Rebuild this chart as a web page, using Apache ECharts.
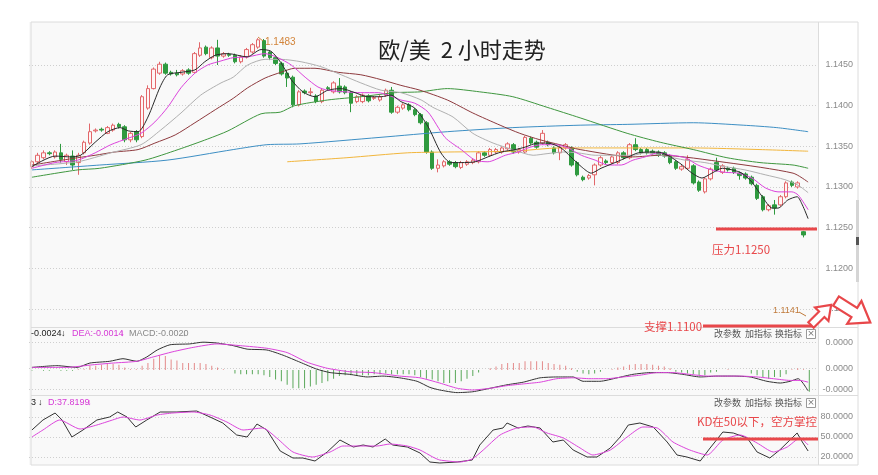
<!DOCTYPE html>
<html><head><meta charset="utf-8">
<script src="https://cdn.jsdelivr.net/npm/echarts@6/dist/echarts.min.js"></script>
<style>html,body{margin:0;padding:0;background:#fff}#c{width:878px;height:475px}</style>
</head><body><div id="c"></div>
<script>
// ---- data ----
// candles: [open, close, low, high]
const candles = [
[1.1325,1.1331,1.1322,1.1333],[1.1331,1.1339,1.1328,1.1342],[1.1336,1.1342,1.1334,1.1345],[1.1342,1.1341,1.1339,1.1344],
[1.1337,1.1343,1.1335,1.1345],[1.1342,1.1334,1.1330,1.1353],[1.1331,1.1339,1.1327,1.1341],[1.1338,1.1327,1.1321,1.1345],
[1.1330,1.1339,1.1315,1.1342],[1.1342,1.1355,1.1340,1.1357],[1.1354,1.1368,1.1352,1.1378],[1.1369,1.1370,1.1367,1.1372],
[1.1371,1.1370,1.1368,1.1373],[1.1366,1.1373,1.1365,1.1375],[1.1370,1.1376,1.1368,1.1378],[1.1377,1.1374,1.1372,1.1379],
[1.1374,1.1358,1.1355,1.1376],[1.1358,1.1366,1.1355,1.1368],[1.1368,1.1358,1.1355,1.1370],[1.1362,1.1411,1.1360,1.1413],
[1.1397,1.1421,1.1395,1.1425],[1.1421,1.1445,1.1420,1.1447],[1.1440,1.1451,1.1438,1.1454],[1.1451,1.1440,1.1438,1.1453],
[1.1441,1.1439,1.1437,1.1443],[1.1440,1.1438,1.1436,1.1444],[1.1439,1.1443,1.1437,1.1445],[1.1444,1.1440,1.1438,1.1446],
[1.1441,1.1464,1.1440,1.1466],[1.1462,1.1471,1.1460,1.1478],[1.1472,1.1464,1.1462,1.1474],[1.1459,1.1471,1.1457,1.1473],
[1.1471,1.1461,1.1450,1.1481],[1.1461,1.1464,1.1459,1.1466],[1.1463,1.1462,1.1460,1.1465],[1.1462,1.1454,1.1452,1.1464],
[1.1454,1.1460,1.1452,1.1462],[1.1460,1.1469,1.1458,1.1471],[1.1466,1.1475,1.1464,1.1477],[1.1472,1.1481,1.1470,1.1483],
[1.1480,1.1461,1.1459,1.1482],[1.1466,1.1459,1.1456,1.1468],[1.1459,1.1452,1.1450,1.1461],[1.1452,1.1439,1.1437,1.1454],
[1.1440,1.1434,1.1423,1.1444],[1.1435,1.1401,1.1398,1.1437],[1.1401,1.1417,1.1399,1.1419],[1.1418,1.1416,1.1414,1.1420],
[1.1416,1.1417,1.1413,1.1422],[1.1412,1.1405,1.1403,1.1414],[1.1405,1.1419,1.1403,1.1421],[1.1422,1.1421,1.1419,1.1424],
[1.1417,1.1428,1.1415,1.1430],[1.1424,1.1417,1.1415,1.1434],[1.1423,1.1416,1.1414,1.1425],[1.1416,1.1403,1.1392,1.1418],
[1.1405,1.1411,1.1403,1.1413],[1.1405,1.1413,1.1403,1.1415],[1.1412,1.1406,1.1404,1.1414],[1.1409,1.1410,1.1407,1.1412],
[1.1407,1.1411,1.1405,1.1413],[1.1413,1.1419,1.1411,1.1421],[1.1419,1.1392,1.1390,1.1423],[1.1392,1.1398,1.1390,1.1400],
[1.1397,1.1401,1.1395,1.1403],[1.1401,1.1395,1.1393,1.1403],[1.1395,1.1389,1.1387,1.1397],[1.1389,1.1379,1.1377,1.1391],
[1.1379,1.1343,1.1341,1.1381],[1.1343,1.1323,1.1321,1.1345],[1.1323,1.1327,1.1318,1.1334],[1.1326,1.1331,1.1324,1.1333],
[1.1331,1.1328,1.1326,1.1333],[1.1330,1.1325,1.1323,1.1332],[1.1324,1.1330,1.1322,1.1332],[1.1328,1.1331,1.1326,1.1333],
[1.1330,1.1333,1.1328,1.1335],[1.1331,1.1342,1.1329,1.1344],[1.1342,1.1339,1.1337,1.1344],[1.1339,1.1346,1.1337,1.1348],
[1.1343,1.1346,1.1341,1.1348],[1.1343,1.1348,1.1341,1.1350],[1.1347,1.1353,1.1345,1.1355],[1.1352,1.1343,1.1341,1.1354],
[1.1343,1.1346,1.1341,1.1348],[1.1343,1.1361,1.1341,1.1363],[1.1360,1.1354,1.1352,1.1362],[1.1355,1.1349,1.1347,1.1357],
[1.1354,1.1366,1.1352,1.1370],[1.1355,1.1352,1.1350,1.1357],[1.1348,1.1342,1.1340,1.1350],[1.1342,1.1349,1.1333,1.1351],
[1.1348,1.1352,1.1346,1.1354],[1.1348,1.1327,1.1325,1.1350],[1.1330,1.1315,1.1313,1.1332],[1.1312,1.1309,1.1307,1.1314],
[1.1311,1.1314,1.1309,1.1316],[1.1315,1.1327,1.1302,1.1329],[1.1327,1.1336,1.1325,1.1338],[1.1332,1.1330,1.1328,1.1334],
[1.1330,1.1337,1.1328,1.1339],[1.1330,1.1342,1.1328,1.1344],[1.1342,1.1336,1.1334,1.1344],[1.1336,1.1352,1.1334,1.1354],
[1.1352,1.1346,1.1344,1.1360],[1.1346,1.1342,1.1340,1.1348],[1.1346,1.1342,1.1340,1.1348],[1.1344,1.1342,1.1340,1.1346],
[1.1343,1.1339,1.1337,1.1345],[1.1342,1.1338,1.1336,1.1344],[1.1338,1.1330,1.1328,1.1340],[1.1331,1.1323,1.1321,1.1333],
[1.1322,1.1325,1.1320,1.1327],[1.1323,1.1334,1.1321,1.1339],[1.1326,1.1305,1.1303,1.1328],[1.1306,1.1296,1.1294,1.1308],
[1.1294,1.1310,1.1292,1.1312],[1.1310,1.1322,1.1308,1.1324],[1.1330,1.1321,1.1319,1.1336],[1.1318,1.1326,1.1316,1.1328],
[1.1323,1.1321,1.1319,1.1325],[1.1323,1.1318,1.1316,1.1325],[1.1317,1.1314,1.1309,1.1319],[1.1316,1.1311,1.1309,1.1318],
[1.1312,1.1304,1.1302,1.1314],[1.1302,1.1286,1.1284,1.1304],[1.1288,1.1272,1.1270,1.1290],[1.1272,1.1277,1.1270,1.1279],
[1.1278,1.1274,1.1266,1.1284],[1.1278,1.1288,1.1276,1.1290],[1.1288,1.1305,1.1286,1.1307],[1.1306,1.1302,1.1300,1.1308],
[1.1300,1.1305,1.1298,1.1307],[1.1245,1.1241,1.1238,1.1246]
];
// moving-average lines: [bar position, value]
const ma5 = [[0,1.1325],[4.0,1.1338],[6.7,1.1337],[8.4,1.1339],[10.9,1.1355],[13.1,1.1368],[15.2,1.1373],[16.6,1.1369],[18.3,1.1368],[20.0,1.1386],[22.1,1.1423],[23.4,1.1438],[25.7,1.1441],[28.1,1.1444],[29.8,1.1454],[31.6,1.1462],[33.8,1.1464],[37.1,1.1460],[39.5,1.1469],[41.2,1.1467],[42.9,1.1453],[44.7,1.1432],[46.7,1.1417],[48.8,1.1411],[51.0,1.1419],[53.3,1.1421],[55.7,1.1416],[57.9,1.1411],[60.2,1.1411],[61.9,1.1413],[63.6,1.1405],[66.0,1.1397],[68.3,1.1374],[70.5,1.1342],[72.2,1.1330],[74.0,1.1330],[76.4,1.1331],[78.6,1.1337],[80.9,1.1343],[83.3,1.1346],[85.0,1.1349],[87.2,1.1354],[89.0,1.1354],[91.2,1.1348],[92.9,1.1337],[94.7,1.1325],[96.4,1.1317],[98.1,1.1323],[100.5,1.1330],[102.8,1.1337],[104.5,1.1342],[106.9,1.1343],[108.6,1.1342],[110.3,1.1336],[112.1,1.1327],[113.8,1.1317],[115.5,1.1311],[117.2,1.1317],[119.0,1.1323],[120.7,1.1321],[122.4,1.1317],[124.1,1.1306],[125.9,1.1288],[127.6,1.1274],[128.6,1.1274],[130.3,1.1284],[131.9,1.1288],[132.8,1.1278],[133.8,1.1261]];
const ma10 = [[0,1.1323],[4.0,1.1330],[7.9,1.1333],[10.9,1.1342],[13.6,1.1352],[16.6,1.1360],[18.8,1.1366],[21.2,1.1380],[23.4,1.1398],[25.7,1.1422],[28.1,1.1440],[30.3,1.1450],[32.6,1.1455],[34.7,1.1459],[37.2,1.1460],[40.2,1.1464],[42.4,1.1459],[44.7,1.1450],[47.1,1.1435],[49.3,1.1423],[51.0,1.1419],[54.0,1.1417],[56.7,1.1416],[59.7,1.1416],[61.4,1.1413],[63.6,1.1407],[66.0,1.1403],[68.3,1.1392],[71.2,1.1361],[74.0,1.1346],[76.4,1.1333],[78.6,1.1331],[81.6,1.1339],[83.8,1.1343],[85.5,1.1348],[87.8,1.1352],[90.2,1.1352],[92.4,1.1348],[94.7,1.1339],[97.1,1.1333],[99.3,1.1327],[101.6,1.1327],[103.6,1.1333],[105.7,1.1337],[107.9,1.1342],[110.3,1.1339],[112.6,1.1336],[114.8,1.1327],[117.2,1.1321],[119.5,1.1318],[121.7,1.1317],[124.1,1.1311],[126.4,1.1299],[128.6,1.1294],[131.0,1.1294],[132.1,1.1290],[133.8,1.1272]];
const ma20 = [[0,1.1326],[7.9,1.1331],[13.6,1.1342],[18.8,1.1352],[22.2,1.1370],[25.7,1.1391],[29.1,1.1413],[32.6,1.1428],[34.7,1.1435],[37.2,1.1450],[40.2,1.1457],[42.9,1.1457],[46.4,1.1454],[49.8,1.1448],[53.3,1.1438],[56.7,1.1428],[60.2,1.1419],[63.6,1.1416],[67.1,1.1407],[69.1,1.1398],[72.6,1.1386],[76.0,1.1366],[79.5,1.1354],[82.9,1.1346],[86.4,1.1339],[88.8,1.1341],[91.6,1.1343],[94.1,1.1342],[97.1,1.1339],[99.8,1.1339],[103.6,1.1339],[105.7,1.1342],[109.1,1.1338],[112.6,1.1333],[116.0,1.1330],[119.5,1.1325],[122.9,1.1321],[126.4,1.1315],[129.8,1.1309],[132.1,1.1302],[133.8,1.1293]];
const ma30 = [[0,1.1327],[7.9,1.1336],[10.9,1.1339],[14.3,1.1343],[18.3,1.1346],[21.2,1.1354],[24.7,1.1364],[28.1,1.1379],[31.6,1.1395],[34.7,1.1409],[37.2,1.1422],[40.2,1.1434],[42.9,1.1441],[45.3,1.1446],[48.8,1.1446],[52.8,1.1441],[56.7,1.1438],[60.2,1.1432],[63.6,1.1425],[66.9,1.1419],[71.6,1.1407],[76.0,1.1391],[80.7,1.1376],[84.1,1.1366],[87.6,1.1358],[91.0,1.1352],[94.5,1.1346],[103.6,1.1337],[108.3,1.1339],[119.8,1.1330],[131.2,1.1317],[133.8,1.1306]];
const ma60 = [[0,1.1312],[7.9,1.1321],[11.7,1.1323],[19.5,1.1333],[25.2,1.1346],[30.3,1.1359],[33.8,1.1369],[39.5,1.1390],[42.8,1.1392],[45.3,1.1400],[51.0,1.1407],[56.7,1.1411],[62.6,1.1416],[66.9,1.1417],[71.6,1.1421],[77.2,1.1417],[82.9,1.1411],[88.8,1.1398],[94.5,1.1385],[102.6,1.1366],[108.3,1.1355],[114.0,1.1346],[119.8,1.1336],[125.5,1.1330],[131.2,1.1327],[133.8,1.1323]];
const ma120 = [[0,1.1321],[11.7,1.1327],[23.3,1.1333],[34.7,1.1346],[40.5,1.1352],[46.2,1.1353],[60.0,1.1361],[71.6,1.1368],[82.9,1.1373],[94.5,1.1376],[102.6,1.1377],[114.0,1.1379],[122.6,1.1376],[128.4,1.1373],[133.8,1.1368]];
const ma250 = [[44.0,1.1331],[54.3,1.1336],[64.7,1.1342],[71.6,1.1343],[82.9,1.1344],[91.0,1.1348],[102.6,1.1348],[114.0,1.1348],[125.5,1.1346],[133.8,1.1344]];
// MACD
const macdHist = [-0.0001,0,-0.0001,-0.0001,0,-0.0001,-0.0001,-0.0001,0.0001,0.0001,
0.0005,0.0005,0.0006,0.0007,0.0007,0.0006,0.0003,0.0001,0.0001,0.0005,
0.0008,0.0013,0.0017,0.0016,0.0012,0.0011,0.0008,0.0008,0.0008,0.0008,
0.0007,0.0005,0.0003,0.0001,0,-0.0004,-0.0005,-0.0005,-0.0005,-0.0005,
-0.0006,-0.0008,-0.0011,-0.0013,-0.0017,-0.0021,-0.0021,-0.0021,-0.0019,-0.0017,
-0.0015,-0.0013,-0.0010,-0.0007,-0.0006,-0.0006,-0.0006,-0.0006,-0.0006,-0.0005,
-0.0005,-0.0004,-0.0005,-0.0005,-0.0005,-0.0005,-0.0006,-0.0008,-0.0010,-0.0011,
-0.0013,-0.0015,-0.0015,-0.0015,-0.0013,-0.0010,-0.0007,-0.0003,0,0.0002,
0.0004,0.0007,0.0008,0.0008,0.0008,0.0010,0.0010,0.0010,0.0010,0.0008,
0.0007,0.0006,0.0005,0.0002,-0.0002,-0.0004,-0.0005,-0.0004,-0.0002,0,
0.0001,0.0003,0.0004,0.0006,0.0007,0.0007,0.0007,0.0006,0.0005,0.0004,
0.0002,-0.0002,-0.0003,-0.0004,-0.0005,-0.0006,-0.0006,-0.0003,-0.0002,0,
0.0001,0,0,0,-0.0004,-0.0006,-0.0008,-0.0010,-0.0008,-0.0008,
-0.0005,0.0001,0.0002,0.0001,-0.0025];
const dif = [[0,0.0003],[4.3,0.0005],[7.8,0.0003],[10.0,0.0008],[13.4,0.0010],[15.7,0.0013],[18.1,0.0010],[19.8,0.0015],[21.6,0.0023],[23.8,0.0029],[27.2,0.0030],[29.5,0.0032],[31.9,0.0031],[34.7,0.0028],[37.1,0.0024],[40.5,0.0023],[43.3,0.0017],[46.2,0.0009],[49.1,0.0001],[51.4,-0.0003],[54.8,-0.0005],[57.8,-0.0008],[60.5,-0.0007],[63.4,-0.0009],[66.4,-0.0013],[68.6,-0.0020],[70.3,-0.0023],[73.3,-0.0026],[76.0,-0.0025],[79.0,-0.0021],[81.9,-0.0017],[84.7,-0.0014],[87.6,-0.0009],[90.5,-0.0008],[93.3,-0.0008],[95.0,-0.0013],[97.9,-0.0013],[100.9,-0.0009],[103.6,-0.0005],[106.6,-0.0003],[109.5,-0.0003],[112.2,-0.0005],[115.2,-0.0008],[118.1,-0.0007],[120.9,-0.0007],[123.8,-0.0008],[126.7,-0.0013],[129.0,-0.0015],[130.7,-0.0013],[132.1,-0.0010],[132.9,-0.0015],[133.8,-0.0024]];
const dea = [[0,0.0003],[6.0,0.0003],[10.5,0.0006],[14.0,0.0008],[18.1,0.0010],[20.9,0.0015],[24.3,0.0021],[27.8,0.0026],[31.9,0.0030],[35.9,0.0028],[40.5,0.0025],[44.0,0.0020],[47.4,0.0009],[50.9,0.0002],[54.8,-0.0002],[58.8,-0.0003],[63.4,-0.0007],[66.9,-0.0009],[70.3,-0.0015],[73.3,-0.0021],[76.0,-0.0023],[79.0,-0.0021],[81.9,-0.0018],[84.7,-0.0016],[87.6,-0.0014],[90.5,-0.0010],[93.3,-0.0009],[96.2,-0.0010],[99.1,-0.0010],[101.9,-0.0008],[104.8,-0.0006],[107.8,-0.0003],[110.5,-0.0003],[113.4,-0.0005],[116.4,-0.0007],[119.1,-0.0007],[122.1,-0.0007],[125.0,-0.0008],[127.8,-0.0010],[130.7,-0.0012],[132.4,-0.0012],[133.8,-0.0014]];
// KD
const kLine = [[0,60.5],[1.9,75.5],[4.0,86],[5.2,75.5],[6.9,50],[8.8,60.5],[11.2,75.5],[13.4,80],[14.8,87.5],[16.4,80],[17.9,65],[19.8,75.5],[22.1,87.5],[25.0,87.5],[28.4,89],[30.7,80],[32.9,71],[35.3,53],[37.1,50],[38.8,69.5],[40.5,60.5],[42.8,29],[45.0,18.5],[46.7,18.5],[48.8,14],[50.9,27.5],[53.1,45.5],[55.4,35],[57.1,38],[58.8,35],[60.9,47],[62.2,38],[64.7,35],[66.9,26],[68.6,12.5],[70.3,11],[73.3,12.5],[75.9,15.5],[77.2,38],[79.5,60.5],[81.2,63.5],[81.9,71],[83.8,63.5],[85.5,66.5],[87.6,63.5],[89.8,42.5],[91.6,45.5],[93.3,30.5],[95.7,20],[97.4,20],[99.7,33.5],[101.4,50],[102.8,68],[104.8,71],[107.1,65],[109.5,42.5],[111.2,23],[112.9,20],[115.2,14],[116.9,33.5],[119.1,57.5],[120.9,56],[123.3,48.5],[125.0,27.5],[127.2,18.5],[128.9,30.5],[131.9,56],[132.8,42.5],[133.8,29]];
const dLine = [[0,50],[1.9,60.5],[4.8,75.5],[8.3,62],[11.2,68],[13.9,75.5],[15.7,80],[18.6,75.5],[21.6,83],[24.3,86],[27.8,87.5],[30.7,83],[33.6,72.5],[36.4,60.5],[39.8,63.5],[42.2,48.5],[45.0,27.5],[48.4,20],[51.4,27.5],[53.6,36.5],[56.6,36.5],[59.5,36.5],[61.7,39.5],[64.7,36.5],[66.9,30.5],[69.1,20],[70.3,15.5],[73.8,12.5],[75.9,17],[77.8,30.5],[80.7,53],[83.6,63.5],[86.4,65],[88.8,56],[91.6,48.5],[94.5,33.5],[96.7,23],[99.7,30.5],[102.6,50],[105.3,65],[107.8,63.5],[110.5,42.5],[113.4,30.5],[116.4,23],[119.1,45.5],[122.1,53],[125.0,41],[127.8,27.5],[130.2,35],[132.4,48.5],[133.8,38]];
// tick labels
const priceTicks = [1.115, 1.12, 1.125, 1.13, 1.135, 1.14, 1.145];
const macdTicks = [0.0032, 0.0002, -0.0022];
const macdTickLabels = ['0.0000', '0.0000', '-0.0000'];
const kdTicks = [20, 50, 80];
const slotCount = 136;
const categories = Array.from({length: slotCount}, (_, i) => String(i));

// ---- chart ----
const chart = echarts.init(document.getElementById('c'));
const RED = '#e8474a', CJK = '"Noto Sans CJK SC", sans-serif';
const L = 29, W = 789;
function maLine(data, color, width) {
  return {type:'line', xAxisIndex:1, yAxisIndex:0, data, symbol:'none', smooth:0.25, silent:true,
    lineStyle:{color, width: width || 1}};
}
function blockArrow(bx, by, angDeg, scale) {
  const a = angDeg * Math.PI / 180, dx = Math.cos(a), dy = Math.sin(a), nx = -dy, ny = dx;
  const tpl = [[0,-4],[16,-4],[16,-10],[30,0],[16,10],[16,4],[0,4]];
  return {type:'polygon', z:120, shape:{points: tpl.map(([t,s]) => [bx + scale*(t*dx + s*nx), by + scale*(t*dy + s*ny)])},
    style:{fill:'#fff', stroke:RED, lineWidth:2.2}};
}
const axisLab = {color:'#8a8a8a', fontSize:9, margin:35, align:'right', fontFamily:'Liberation Sans'};
const dotted = {show:true, lineStyle:{type:[1,2], color:'#cfcfcf', width:1}};
function txt(x, y, text, fill, font, align) {
  return {type:'text', x, y, z:120, silent:true, style:{text, fill, font, textAlign: align || 'left', textVerticalAlign:'middle'}};
}
function ln(x1, y1, x2, y2, stroke, w) {
  return {type:'line', z:110, silent:true, shape:{x1, y1, x2, y2}, style:{stroke, lineWidth: w || 1}};
}
const smallFont = '9px "Liberation Sans", "DejaVu Sans", sans-serif';
const btnFont = '9px ' + CJK;
function buttons(y) {
  return [txt(714, y, '改参数', '#555', btnFont), txt(745, y, '加指标', '#555', btnFont), txt(775, y, '换指标', '#555', btnFont),
    {type:'rect', z:120, shape:{x:806.5, y:y-4.5, width:9, height:9}, style:{fill:'#fff', stroke:'#999', lineWidth:1}},
    txt(811, y, '×', '#777', '9px "DejaVu Sans"', 'center')];
}

chart.setOption({
  animation:false,
  backgroundColor:'#ffffff',
  grid:[
    {left:L, top:22, width:W, height:305, show:true, backgroundColor:'#f9f9f9', borderWidth:0},
    {left:L, top:327, width:W, height:68, show:true, backgroundColor:'#f9f9f9', borderWidth:0},
    {left:L, top:395, width:W, height:70, show:true, backgroundColor:'#f9f9f9', borderWidth:0}
  ],
  xAxis:[
    {type:'category', gridIndex:0, data:categories, show:false},
    {type:'value', gridIndex:0, min:-0.5, max:slotCount-0.5, show:false},
    {type:'category', gridIndex:1, data:categories, show:false},
    {type:'value', gridIndex:1, min:-0.5, max:slotCount-0.5, show:false},
    {type:'value', gridIndex:2, min:-0.5, max:slotCount-0.5, show:false}
  ],
  yAxis:[
    {type:'value', gridIndex:0, position:'right', min:1.11278, max:1.15029,
     axisLine:{show:false}, axisTick:{show:false, customValues:priceTicks},
     axisLabel:Object.assign({customValues:priceTicks, formatter:v => v.toFixed(4)}, axisLab), splitLine:dotted},
    {type:'value', gridIndex:1, position:'right', min:-0.002875, max:0.004945,
     axisLine:{show:false}, axisTick:{show:false, customValues:macdTicks},
     axisLabel:Object.assign({customValues:macdTicks, formatter:v => {
        let best = 0; macdTicks.forEach((t, i) => { if (Math.abs(t - v) < Math.abs(macdTicks[best] - v)) best = i; });
        return macdTickLabels[best]; }}, axisLab), splitLine:dotted},
    {type:'value', gridIndex:2, position:'right', min:8, max:113,
     axisLine:{show:false}, axisTick:{show:false, customValues:kdTicks},
     axisLabel:Object.assign({customValues:kdTicks, formatter:v => v.toFixed(4)}, axisLab), splitLine:dotted}
  ],
  series:[
    {type:'candlestick', xAxisIndex:0, yAxisIndex:0, data:candles, barWidth:4, silent:true,
     itemStyle:{color:'#fff5f5', color0:'#2f9a3f', borderColor:'#e2676a', borderColor0:'#2f9a3f', borderWidth:1}},
    maLine(ma250, '#f2b63c'),
    maLine(ma120, '#3d8fc4'),
    maLine(ma60, '#3f973f'),
    maLine(ma30, '#8e3a3e'),
    maLine(ma20, '#b0b0b0'),
    maLine(ma10, '#dc44dc'),
    maLine(ma5, '#2a2a2a'),
    {type:'bar', xAxisIndex:2, yAxisIndex:1, data:macdHist, barWidth:1, silent:true,
     itemStyle:{color:p => p.value >= 0 ? '#e48a8a' : '#5aa85a'}},
    {type:'line', xAxisIndex:3, yAxisIndex:1, data:dif, symbol:'none', smooth:0.2, silent:true, lineStyle:{color:'#333', width:1}},
    {type:'line', xAxisIndex:3, yAxisIndex:1, data:dea, symbol:'none', smooth:0.2, silent:true, lineStyle:{color:'#dc44dc', width:1}},
    {type:'line', xAxisIndex:4, yAxisIndex:2, data:kLine, symbol:'none', silent:true, lineStyle:{color:'#333', width:1}},
    {type:'line', xAxisIndex:4, yAxisIndex:2, data:dLine, symbol:'none', smooth:0.2, silent:true, lineStyle:{color:'#dc44dc', width:1}}
  ],
  graphic:{elements:[
    // frame
    {type:'rect', z:100, silent:true, shape:{x:31, y:22, width:827, height:443}, style:{fill:'none', stroke:'#dcdcdc', lineWidth:1}},
    ln(818.5, 22, 818.5, 465, '#dcdcdc'),
    ln(31, 327.5, 858, 327.5, '#dcdcdc'),
    ln(31, 395.5, 858, 395.5, '#dcdcdc'),
    {type:'rect', z:100, silent:true, shape:{x:856, y:200, width:3, height:82}, style:{fill:'#d5d5d5'}},
    {type:'rect', z:101, silent:true, shape:{x:856, y:237, width:3, height:8}, style:{fill:'#555'}},
    // title
    txt(462, 50, '欧/美  2 小时走势', '#222', '22px ' + CJK, 'center'),
    // price markers
    ln(258, 37, 263, 41, '#d2843a'),
    txt(265, 42, '1.1483', '#d2843a', '10px "Liberation Sans"'),
    txt(773, 311, '1.1141', '#c07a3a', '9px "Liberation Sans"'),
    ln(799, 312, 806, 316, '#c07a3a'),
    // panel legends
    txt(31, 334, '-0.0024', '#222', smallFont), txt(61, 334, '↓', '#222', smallFont),
    txt(72, 334, 'DEA:-0.0014', '#d63ad6', smallFont), txt(120, 334, '↓', '#d63ad6', smallFont),
    txt(129, 334, 'MACD:-0.0020', '#888', smallFont), txt(182, 334, '↓', '#888', smallFont),
    txt(31, 403, '3', '#222', smallFont), txt(38, 403, '↓', '#222', smallFont),
    txt(48, 403, 'D:37.8199', '#d63ad6', smallFont), txt(87, 403, '↓', '#d63ad6', smallFont),
    ...buttons(334), ...buttons(403),
    // red annotations
    ln(716, 229, 817, 229, RED, 3),
    txt(712, 250, '压力1.1250', RED, '11.5px ' + CJK),
    ln(703, 326, 815, 326, RED, 3),
    txt(644, 327, '支撑1.1100', RED, '11.5px ' + CJK),
    txt(697, 422, 'KD在50以下，空方掌控', RED, '11.5px ' + CJK),
    ln(703, 439, 818, 439, RED, 3),
    blockArrow(811, 325, -45, 0.95),
    blockArrow(836, 301, 32, 1.35)
  ]}
});
</script></body></html>
